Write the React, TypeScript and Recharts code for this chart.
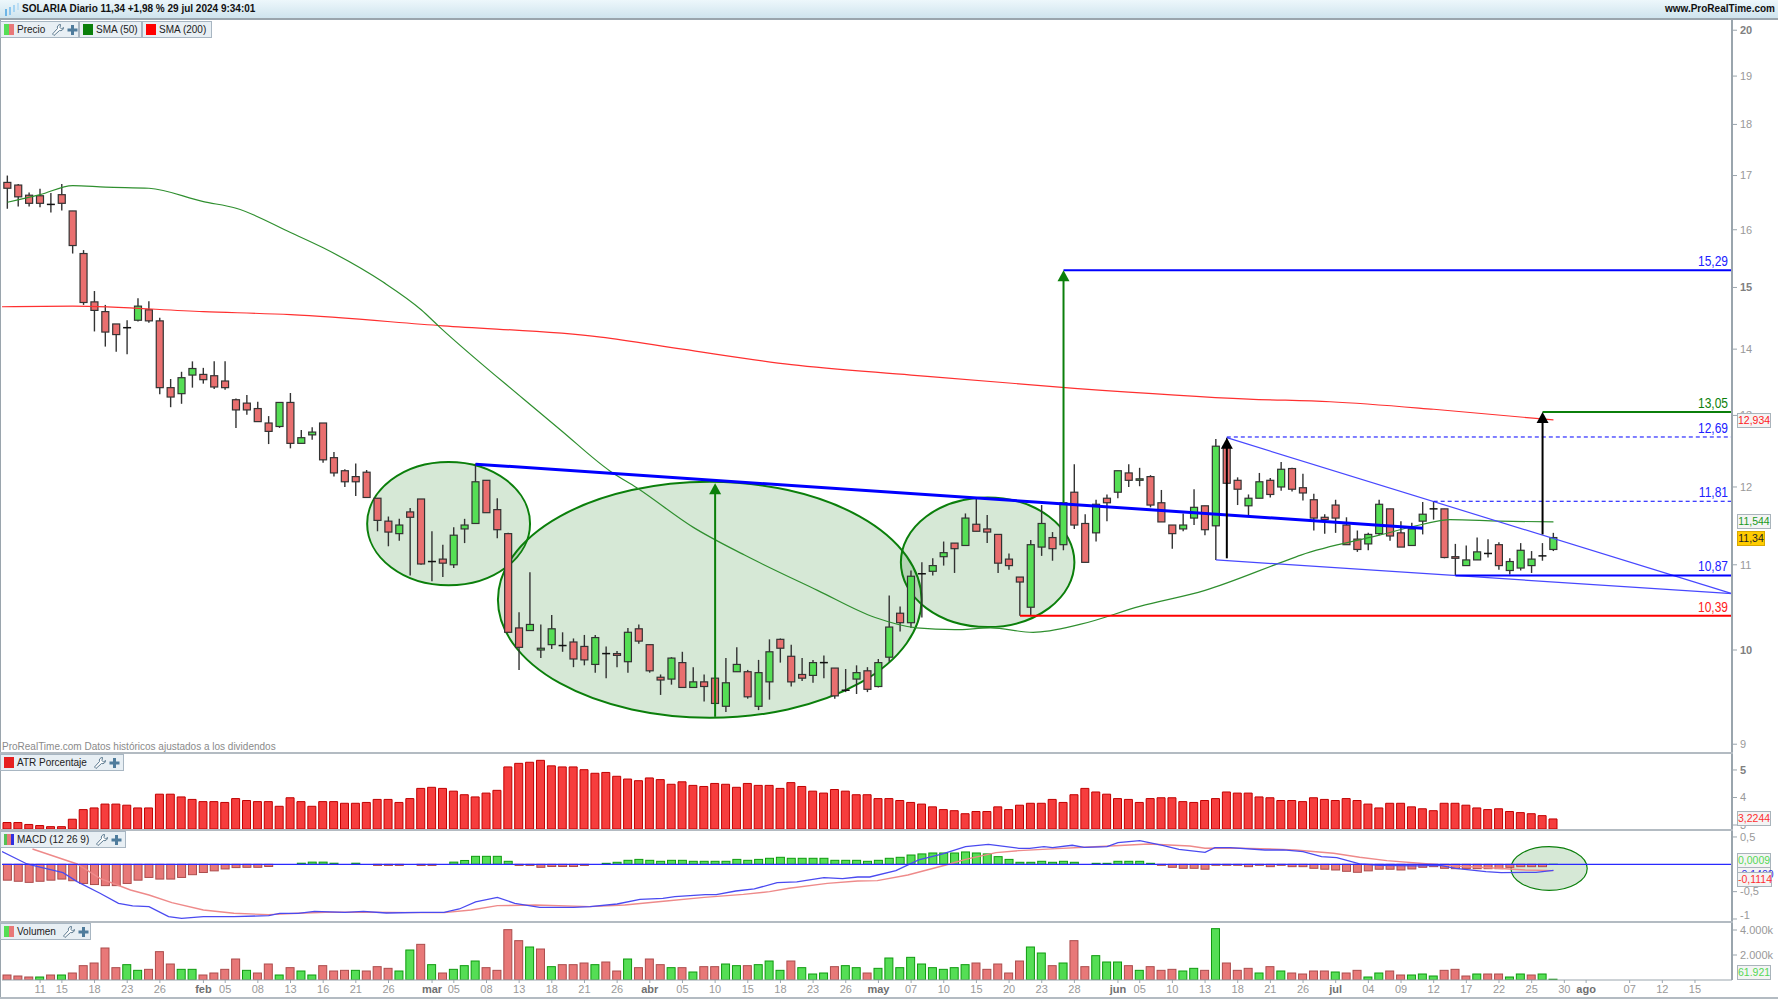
import { Bar, ComposedChart, Line, ReferenceArea, ReferenceDot, ReferenceLine, XAxis, YAxis } from 'recharts';

const highs = [
  17.0, 16.84, 16.68, 16.75, 16.67, 16.84, 16.34, 15.64, 14.94, 14.71, 14.4, 14.46, 14.82, 14.77, 14.5, 13.54, 13.65, 13.81, 13.71, 13.81,
  13.81, 13.25, 13.3, 13.2, 12.99, 13.19, 13.33, 12.79, 12.83, 12.89, 12.48, 12.24, 12.32, 12.23, 11.85, 11.61, 11.58, 11.72, 11.84, 11.42,
  11.25, 11.47, 11.58, 12.32, 12.09, 11.85, 11.4, 10.43, 10.91, 10.29, 10.4, 10.2, 10.13, 10.17, 10.17, 10.04, 9.99, 10.25, 10.29, 10.06,
  9.73, 9.92, 9.98, 9.81, 9.73, 9.69, 9.91, 10.03, 9.78, 9.89, 10.12, 10.13, 10.06, 9.91, 9.89, 9.94, 9.8, 9.79, 9.83, 9.81,
  9.9, 10.63, 10.5, 10.93, 11.03, 11.08, 11.29, 11.27, 11.65, 11.84, 11.63, 11.38, 11.14, 10.85, 11.31, 11.76, 11.41, 11.8, 12.31, 11.64,
  11.83, 11.9, 12.22, 12.31, 12.26, 12.16, 11.96, 11.5, 11.65, 11.97, 11.75, 12.66, 12.68, 12.13, 11.9, 12.19, 12.12, 12.34, 12.26, 12.18,
  11.91, 11.64, 11.83, 11.6, 11.43, 11.4, 11.83, 11.71, 11.55, 11.53, 11.8, 11.81, 11.71, 11.26, 11.24, 11.34, 11.32, 11.28, 11.08, 11.27,
  11.17, 11.27, 11.4,
];
const lows = [
  16.38, 16.42, 16.42, 16.41, 16.31, 16.35, 15.58, 14.71, 14.28, 14.04, 13.96, 13.92, 14.44, 14.42, 13.31, 13.12, 13.17, 13.41, 13.47, 13.39,
  13.38, 12.82, 13.01, 12.91, 12.59, 12.82, 12.53, 12.6, 12.65, 12.33, 12.14, 12.0, 11.88, 11.86, 11.42, 11.23, 11.3, 10.87, 11.0, 10.8,
  10.85, 10.96, 11.27, 11.52, 11.66, 11.33, 10.2, 9.78, 10.22, 9.91, 10.01, 9.98, 9.81, 9.83, 9.75, 9.69, 9.81, 9.75, 10.07, 9.75,
  9.51, 9.62, 9.59, 9.59, 9.44, 9.42, 9.33, 9.76, 9.47, 9.35, 9.46, 9.86, 9.6, 9.66, 9.64, 9.69, 9.47, 9.54, 9.52, 9.54,
  9.59, 9.87, 10.21, 10.25, 10.37, 10.87, 10.99, 10.9, 11.24, 11.42, 11.27, 10.9, 10.94, 10.39, 10.4, 11.11, 11.05, 11.18, 11.45, 11.03,
  11.29, 11.55, 11.85, 12.0, 12.01, 11.73, 11.54, 11.2, 11.42, 11.5, 11.37, 11.06, 12.05, 11.76, 11.63, 11.85, 11.86, 11.95, 11.94, 11.82,
  11.43, 11.39, 11.4, 11.25, 11.16, 11.18, 11.37, 11.3, 11.22, 11.24, 11.38, 11.57, 11.08, 10.87, 10.99, 11.06, 11.09, 10.94, 10.88, 10.93,
  10.9, 11.05, 11.17,
];
const opens = [
  16.87, 16.82, 16.63, 16.62, 16.46, 16.64, 16.34, 15.58, 14.76, 14.6, 14.4, 14.34, 14.46, 14.63, 14.45, 13.41, 13.32, 13.6, 13.61, 13.59,
  13.51, 13.23, 13.18, 13.1, 12.89, 12.84, 13.19, 12.6, 12.72, 12.89, 12.4, 12.22, 12.14, 12.2, 11.85, 11.55, 11.39, 11.67, 11.84, 11.04,
  11.07, 11.0, 11.45, 11.52, 12.09, 11.7, 11.39, 10.25, 10.22, 10.0, 10.06, 10.05, 10.09, 10.04, 9.84, 9.96, 9.96, 9.87, 10.24, 10.06,
  9.7, 9.68, 9.86, 9.59, 9.65, 9.69, 9.39, 9.76, 9.76, 9.39, 9.65, 10.12, 9.93, 9.73, 9.72, 9.86, 9.8, 9.56, 9.68, 9.77,
  9.6, 9.92, 10.42, 10.31, 10.89, 10.92, 11.1, 11.27, 11.24, 11.51, 11.45, 11.38, 11.07, 10.85, 10.49, 11.22, 11.34, 11.25, 11.93, 11.52,
  11.4, 11.85, 11.93, 12.19, 12.09, 12.14, 11.79, 11.5, 11.45, 11.59, 11.75, 11.49, 12.56, 12.09, 11.75, 11.85, 12.09, 12.0, 12.25, 11.99,
  11.83, 11.6, 11.76, 11.5, 11.32, 11.26, 11.39, 11.71, 11.4, 11.24, 11.55, 11.71, 11.71, 11.1, 10.99, 11.06, 11.14, 11.25, 10.93, 10.96,
  10.99, 11.11, 11.19,
];
const closes = [
  16.76, 16.6, 16.48, 16.48, 16.46, 16.48, 15.72, 14.75, 14.62, 14.27, 14.23, 14.34, 14.69, 14.45, 13.41, 13.27, 13.56, 13.7, 13.53, 13.42,
  13.41, 13.08, 13.08, 12.91, 12.77, 13.19, 12.6, 12.68, 12.76, 12.37, 12.19, 12.07, 12.07, 11.86, 11.56, 11.41, 11.5, 11.6, 11.01, 11.04,
  11.02, 11.37, 11.5, 12.07, 11.66, 11.44, 10.2, 10.03, 10.29, 10.02, 10.24, 10.05, 9.9, 9.89, 10.14, 9.96, 9.94, 10.2, 10.1, 9.77,
  9.67, 9.91, 9.59, 9.65, 9.6, 9.42, 9.64, 9.84, 9.49, 9.75, 9.98, 10.02, 9.65, 9.69, 9.86, 9.86, 9.5, 9.56, 9.75, 9.57,
  9.86, 10.26, 10.31, 10.86, 10.89, 10.99, 11.15, 11.2, 11.59, 11.42, 11.41, 11.02, 10.99, 10.79, 11.25, 11.52, 11.2, 11.79, 11.5, 11.03,
  11.77, 11.79, 12.22, 12.09, 12.11, 11.76, 11.54, 11.39, 11.5, 11.73, 11.44, 12.56, 12.05, 11.97, 11.85, 12.07, 11.9, 12.24, 11.97, 11.92,
  11.59, 11.57, 11.59, 11.25, 11.19, 11.38, 11.77, 11.36, 11.22, 11.45, 11.64, 11.71, 11.09, 11.08, 11.06, 11.16, 11.14, 10.99, 11.04, 11.18,
  11.07, 11.11, 11.34,
];
const atrValues = [
  3.09, 3.09, 3.02, 2.98, 2.94, 2.94, 3.21, 3.56, 3.62, 3.76, 3.76, 3.72, 3.62, 3.62, 4.12, 4.12, 4.02, 3.93, 3.85, 3.85,
  3.82, 3.96, 3.89, 3.85, 3.85, 3.68, 3.99, 3.85, 3.68, 3.85, 3.85, 3.79, 3.79, 3.82, 3.93, 3.93, 3.82, 3.96, 4.33, 4.37,
  4.33, 4.23, 4.1, 4.02, 4.16, 4.26, 5.11, 5.24, 5.28, 5.35, 5.15, 5.11, 5.11, 5.01, 4.88, 4.91, 4.77, 4.67, 4.61, 4.71,
  4.65, 4.48, 4.57, 4.44, 4.4, 4.51, 4.48, 4.37, 4.51, 4.44, 4.44, 4.33, 4.54, 4.4, 4.23, 4.16, 4.29, 4.23, 4.1, 4.1,
  3.96, 3.96, 3.89, 3.82, 3.76, 3.66, 3.56, 3.52, 3.41, 3.49, 3.49, 3.66, 3.56, 3.72, 3.79, 3.79, 3.93, 3.82, 4.1, 4.33,
  4.2, 4.12, 3.96, 3.93, 3.82, 3.96, 3.99, 3.99, 3.85, 3.82, 3.89, 3.96, 4.2, 4.16, 4.16, 4.02, 3.99, 3.89, 3.89, 3.85,
  3.99, 3.93, 3.89, 3.96, 3.89, 3.76, 3.62, 3.79, 3.79, 3.66, 3.59, 3.52, 3.79, 3.79, 3.72, 3.62, 3.56, 3.59, 3.49, 3.45,
  3.41, 3.34, 3.22,
];
const macdHist = [
  -0.29, -0.31, -0.33, -0.31, -0.29, -0.27, -0.3, -0.35, -0.37, -0.39, -0.39, -0.35, -0.29, -0.24, -0.27, -0.27, -0.24, -0.19, -0.15, -0.12,
  -0.085, -0.06, -0.055, -0.055, -0.04, 0, 0, 0.02, 0.04, 0.04, 0.02, 0, 0.02, 0, -0.02, -0.02, -0.02, 0, -0.02, -0.02,
  0, 0.04, 0.07, 0.146, 0.146, 0.146, 0.055, -0.02, -0.02, -0.055, -0.04, -0.04, -0.04, -0.02, 0, 0.018, 0.037, 0.073, 0.09, 0.073,
  0.055, 0.073, 0.073, 0.055, 0.055, 0.055, 0.055, 0.09, 0.073, 0.09, 0.11, 0.128, 0.11, 0.11, 0.11, 0.11, 0.073, 0.073, 0.073, 0.055,
  0.073, 0.11, 0.128, 0.17, 0.19, 0.207, 0.207, 0.207, 0.226, 0.207, 0.19, 0.14, 0.09, 0.037, 0.037, 0.055, 0.037, 0.055, 0.037, 0,
  0.018, 0.018, 0.055, 0.055, 0.055, 0.018, -0.018, -0.055, -0.073, -0.073, -0.09, -0.018, -0.018, -0.018, -0.043, -0.018, -0.043, -0.018, -0.043, -0.043,
  -0.073, -0.09, -0.104, -0.128, -0.146, -0.12, -0.09, -0.09, -0.104, -0.085, -0.055, -0.043, -0.073, -0.08, -0.08, -0.08, -0.08, -0.08, -0.055, -0.043,
  -0.043, -0.043, 0.0009,
];
const volumes = [
  400, 320, 240, 240, 400, 400, 560, 1147, 1360, 2560, 987, 1227, 773, 853, 2267, 1280, 853, 853, 400, 560,
  853, 1680, 773, 560, 1280, 400, 987, 720, 400, 1147, 720, 773, 773, 720, 1067, 933, 720, 2400, 2853, 1227,
  560, 853, 1147, 1520, 987, 773, 4027, 3147, 2640, 2480, 1067, 1227, 1227, 1360, 1227, 1440, 720, 1680, 987, 1680,
  1227, 987, 987, 640, 1067, 1067, 1280, 1147, 1147, 1227, 1520, 773, 1520, 987, 480, 560, 1067, 1147, 987, 560,
  933, 1760, 987, 1813, 1280, 987, 853, 987, 1227, 1360, 853, 1280, 560, 1520, 2640, 2160, 1147, 1360, 3147, 1067,
  1947, 1440, 1440, 1147, 773, 1067, 773, 853, 720, 933, 773, 4107, 1360, 773, 933, 560, 1067, 720, 560, 480,
  720, 720, 640, 560, 773, 240, 560, 720, 400, 400, 480, 320, 773, 853, 320, 480, 480, 480, 240, 480,
  400, 480, 62,
];

// readings: [bar index, value]
const sma50 = [
  [0, 16.5], [3, 16.64], [6, 16.81], [9, 16.78], [13, 16.76], [18, 16.51], [21, 16.39], [26, 15.95], [29, 15.68], [34.5, 15.09],
  [38, 14.63], [39.7, 14.35], [47.4, 13.24], [50.8, 12.79], [55.4, 12.21], [57.8, 11.99], [63, 11.47], [67.7, 11.12], [74.4, 10.69],
  [79.7, 10.37], [83.5, 10.25], [87, 10.23], [90.3, 10.25], [94.2, 10.2], [98.5, 10.29], [104, 10.5], [110, 10.69], [117, 11.03],
  [118.8, 11.12], [126, 11.37], [130, 11.51], [132.5, 11.57], [137, 11.55], [142, 11.54],
];
const sma200 = [
  [-0.5, 14.68], [6, 14.69], [18, 14.6], [26, 14.55], [40, 14.37], [54.5, 14.19], [62, 14.0], [72, 13.76], [83, 13.6], [98, 13.4],
  [114, 13.24], [121.5, 13.2], [131, 13.09], [142, 12.934],
];
const macdLine = [
  [-0.5, 0.232], [1.8, 0.006], [2.8, -0.043], [5.1, -0.152], [6.4, -0.317], [8.5, -0.53], [10.2, -0.713], [11.5, -0.762], [13, -0.774],
  [14.8, -0.957], [16, -0.988], [18, -0.957], [20.8, -0.957], [24, -0.939], [25, -0.896], [26.7, -0.896], [28.2, -0.86], [31, -0.878],
  [32.7, -0.86], [34.8, -0.89], [38, -0.878], [40.1, -0.878], [41.5, -0.817], [43, -0.689], [45, -0.604], [46.6, -0.713], [48.9, -0.787],
  [52, -0.787], [53.5, -0.774], [56, -0.726], [58.1, -0.64], [60.2, -0.622], [61.3, -0.591], [64.1, -0.555], [65.1, -0.555], [66.9, -0.488],
  [68.6, -0.451], [70.7, -0.335], [72.5, -0.323], [75, -0.244], [76.7, -0.262], [78.1, -0.232], [79.2, -0.232], [81.6, -0.116], [83.7, 0.079],
  [85.9, 0.189], [88, 0.323], [90.1, 0.366], [92.9, 0.293], [93.9, 0.293], [95.2, 0.323], [96, 0.305], [97.8, 0.348], [98.9, 0.311], [101, 0.323],
  [102, 0.396], [104, 0.433], [106.2, 0.341], [107.6, 0.274], [110, 0.22], [110.9, 0.305], [112.3, 0.305], [115.5, 0.262], [117.2, 0.262],
  [119, 0.232], [120.7, 0.14], [122.1, 0.122], [124.2, 0.006], [126, -0.018], [129.5, -0.03], [131.6, -0.018], [133, -0.073], [135.8, -0.134],
  [137.2, -0.152], [140.4, -0.146], [142, -0.11],
];
const macdSignal = [
  [2.3, 0.28], [6.4, 0.006], [8.5, -0.256], [11.3, -0.47], [13, -0.561], [15.1, -0.701], [18, -0.835], [20.8, -0.896], [24, -0.921], [26.7, -0.896],
  [29.2, -0.878], [32.7, -0.878], [38, -0.884], [40.1, -0.884], [42.6, -0.835], [45, -0.756], [48.5, -0.744], [53.5, -0.774], [56.7, -0.744],
  [60.5, -0.671], [64, -0.604], [67.6, -0.549], [70, -0.5], [71.8, -0.439], [75.3, -0.348], [78.1, -0.305], [79.9, -0.299], [82.7, -0.195],
  [86.2, -0.012], [88, 0.091], [90.8, 0.213], [92.9, 0.25], [96.4, 0.287], [98.9, 0.311], [101.3, 0.335], [104.8, 0.372], [108.6, 0.335], [110, 0.293],
  [112.3, 0.299], [115.1, 0.287], [118.3, 0.262], [121.8, 0.201], [124.2, 0.128], [126.7, 0.067], [130.6, 0.006], [133, -0.03], [136.5, -0.067],
  [139.4, -0.104], [142, -0.116],
];

const dateTicks = [3, 5, 8, 11, 14, 18, 20, 23, 26, 29, 32, 35, 39, 41, 44, 47, 50, 53, 56, 59, 62, 65, 68, 71, 74, 77, 80, 83, 86, 89, 92, 95, 98, 102, 104, 107, 110, 113, 116, 119, 122, 125, 128, 131, 134, 137, 140, 143, 145, 149, 152, 155];
const dateLabels = ['11', '15', '18', '23', '26', 'feb', '05', '08', '13', '16', '21', '26', 'mar', '05', '08', '13', '18', '21', '26', 'abr', '05', '10', '15', '18', '23', '26', 'may', '07', '10', '15', '20', '23', '28', 'jun', '05', '10', '13', '18', '21', '26', 'jul', '04', '09', '12', '17', '22', '25', '30', 'ago', '07', '12', '15'];
const priceTicks = [9, 10, 11, 12, 13, 14, 15, 16, 17, 18, 19, 20];
const boldTicks = [5, 10, 15, 20];

const rows = highs.map((h, i) => ({
  i,
  range: [lows[i], h],
  high: h,
  low: lows[i],
  open: opens[i],
  close: closes[i],
  atr: atrValues[i],
  hist: macdHist[i],
  vol: volumes[i],
  up: i > 0 && closes[i] >= closes[i - 1],
}));
const toLine = (pts: number[][]) => pts.map(([i, v]) => ({ i, v }));

const X_DOMAIN = [-0.5, 158.4];
const RIGHT = 158.4;
const WIDTH = 1778;
const MARGIN = { top: 0, right: 0, bottom: 0, left: 2 };
const GREY = '#9aa5ad';
const FONT = '"Liberation Sans", Arial, sans-serif';
const DARK_GREEN = '#0b7f0b';
const BLUE = '#0000ff';

function Candle(props: any) {
  const { x, y, width, height, payload } = props;
  const { high, low, open, close } = payload;
  const cx = x + width / 2;
  const at = (v: number) => y + (height * Math.log(high / v)) / Math.log(high / low);
  const top = at(Math.max(open, close));
  const bottom = at(Math.min(open, close));
  if (open === close) {
    return (
      <g>
        <line x1={cx} x2={cx} y1={y} y2={y + height} stroke="#333" strokeWidth={1.4} />
        <line x1={cx - 4} x2={cx + 4} y1={top} y2={top} stroke="#111" strokeWidth={1.5} />
      </g>
    );
  }
  return (
    <g>
      <line x1={cx} x2={cx} y1={y} y2={y + height} stroke="#333" strokeWidth={1.4} />
      <rect
        x={cx - 3.5}
        y={top}
        width={7}
        height={bottom - top}
        fill={close < open ? '#e96f6f' : '#55de55'}
        stroke="#333"
        strokeWidth={1.2}
      />
    </g>
  );
}

// the lines in the same chart narrow the band, so the bar keeps its own width around its centre
function HistBar(props: any) {
  const { x, y, width, height, payload } = props;
  if (payload.hist === 0) return null;
  const neg = payload.hist < 0;
  return (
    <rect
      x={x + width / 2 - 4}
      y={Math.min(y, y + height)}
      width={8}
      height={Math.abs(height)}
      fill={neg ? '#e87878' : '#55de55'}
      stroke={neg ? '#ab4c4c' : '#0f9a0f'}
    />
  );
}

function VolBar(props: any) {
  const { x, y, width, height, payload } = props;
  return (
    <rect
      x={x + width / 2 - 4}
      y={y}
      width={8}
      height={height}
      fill={payload.up ? '#55de55' : '#e87878'}
      stroke={payload.up ? '#0f9a0f' : '#ab4c4c'}
    />
  );
}

function Ellipse(props: any) {
  const { x, y, width, height } = props;
  return (
    <ellipse
      cx={x + width / 2}
      cy={y + height / 2}
      rx={width / 2}
      ry={height / 2}
      fill="rgba(30,130,30,0.18)"
      stroke={DARK_GREEN}
      strokeWidth={props.thin ? 1.2 : 2}
    />
  );
}

const arrowHead = (color: string) => (p: any) => (
  <polygon points={`${p.cx},${p.cy} ${p.cx - 6},${p.cy + 11} ${p.cx + 6},${p.cy + 11}`} fill={color} />
);

const lineLabel = (text: string, color: string) => (p: any) => (
  <text
    transform={`translate(${p.cx - 4},${p.cy - 4}) scale(1,1.25)`}
    textAnchor="end"
    fontSize={12}
    fontFamily={FONT}
    fill={color}
  >
    {text}
  </text>
);

const axisTick = (format: (v: number) => string) => (p: any) => (
  <text
    x={p.x + 1}
    y={p.payload.value === -1 ? p.y - 4 : p.y}
    dy="0.35em"
    textAnchor="start"
    fontSize={11}
    fontFamily={FONT}
    fontWeight={boldTicks.includes(p.payload.value) ? 700 : 400}
    fill={boldTicks.includes(p.payload.value) ? '#808080' : '#999'}
  >
    {format(p.payload.value)}
  </text>
);

function DateTick(p: any) {
  const label = dateLabels[dateTicks.indexOf(p.payload.value)];
  const isMonth = /[a-z]/.test(label);
  return (
    <text
      x={p.x}
      y={p.y + 8}
      textAnchor="middle"
      fontSize={11}
      fontFamily={FONT}
      fontWeight={isMonth ? 700 : 400}
      fill={isMonth ? '#707070' : '#999'}
    >
      {label}
    </text>
  );
}

function Tools() {
  return (
    <svg width={28} height={14} viewBox="0 0 28 14" style={{ marginLeft: 6, flex: 'none' }}>
      <path d="M9.5 1.5 a3 3 0 0 0 -3 4 L1.5 11 l1.5 1.5 L8.5 7.5 a3 3 0 0 0 4 -3 l-2 1.5 -1.5 -1.5 z" fill="#fff" stroke="#5c7a90" strokeWidth={1} />
      <path d="M20 2h3v3.5h3.5v3H23V12h-3V8.5h-3.5v-3H20z" fill="#4f7c9c" />
    </svg>
  );
}

function Chip(props: any) {
  const { left, top, width, colors, text, tools } = props;
  return (
    <div
      style={{
        position: 'absolute', left, top, width, height: 17, boxSizing: 'border-box',
        background: '#e8eff4', border: '1px solid #a8b6c2', display: 'flex', alignItems: 'center',
        paddingLeft: 3, font: `10px ${FONT}`, color: '#222', whiteSpace: 'nowrap',
      }}
    >
      <span style={{ display: 'flex', width: 10, height: 11, marginRight: 3, flex: 'none' }}>
        {colors.map((c: string) => (
          <i key={c} style={{ flex: 1, background: c }} />
        ))}
      </span>
      {text}
      {tools && <Tools />}
    </div>
  );
}

function ValueBox(props: any) {
  const { top, width = 34, color, bg = '#f4f4f4', text, height = 15 } = props;
  return (
    <div
      style={{
        position: 'absolute', left: 1737, top, width, height, boxSizing: 'border-box',
        border: bg === '#f4f4f4' ? '1px solid #a9b4bb' : '1px solid #d8a800', background: bg,
        color, font: `10.5px ${FONT}`, lineHeight: `${height - 2}px`, textAlign: 'center',
      }}
    >
      {text}
    </div>
  );
}

function Divider({ top }: { top: number }) {
  return <div style={{ position: 'absolute', left: 0, top, width: 1733, height: 2, background: '#b3bbc2' }} />;
}

export default function App() {
  return (
    <div style={{ position: 'fixed', left: 0, top: 0, width: WIDTH, height: 1000, background: '#fff', overflow: 'hidden', fontFamily: FONT }}>
      {/* price panel */}
      <div style={{ position: 'absolute', left: 0, top: 20 }}>
        <ComposedChart width={WIDTH} height={733} data={rows} margin={MARGIN}>
          <XAxis type="number" dataKey="i" domain={X_DOMAIN} allowDataOverflow hide />
          <YAxis
            orientation="right"
            width={46}
            type="number"
            scale="log"
            domain={[8.912, 20.23]}
            allowDataOverflow
            ticks={priceTicks}
            interval={0}
            tickSize={5}
            tickLine={{ stroke: GREY }}
            axisLine={{ stroke: GREY, strokeWidth: 2 }}
            tick={axisTick((v) => String(v))}
          />
          <Bar dataKey="range" barSize={8} shape={<Candle />} isAnimationActive={false} />
          <Line data={toLine(sma200)} dataKey="v" type="monotone" stroke="#ff3030" strokeWidth={1.2} dot={false} isAnimationActive={false} />
          <Line data={toLine(sma50)} dataKey="v" type="monotone" stroke="#2f8f2f" strokeWidth={1.2} dot={false} isAnimationActive={false} />

          <ReferenceArea x1={33.04} x2={48} y1={10.75} y2={12.34} ifOverflow="visible" shape={<Ellipse />} />
          <ReferenceArea x1={45.05} x2={83.96} y1={9.27} y2={12.07} ifOverflow="visible" shape={<Ellipse />} />
          <ReferenceArea x1={82.06} x2={98} y1={10.26} y2={11.86} ifOverflow="visible" shape={<Ellipse />} />

          <ReferenceLine segment={[{ x: 43, y: 12.31 }, { x: 130, y: 11.46 }]} stroke={BLUE} strokeWidth={3} ifOverflow="visible" />
          <ReferenceLine segment={[{ x: 112, y: 12.68 }, { x: RIGHT, y: 10.65 }]} stroke="#4848ff" strokeWidth={1.2} ifOverflow="visible" />
          <ReferenceLine segment={[{ x: 111, y: 11.06 }, { x: RIGHT, y: 10.65 }]} stroke="#4848ff" strokeWidth={1.2} ifOverflow="visible" />
          <ReferenceLine segment={[{ x: 97, y: 15.29 }, { x: RIGHT, y: 15.29 }]} stroke={BLUE} strokeWidth={2} ifOverflow="visible" />
          <ReferenceLine segment={[{ x: 141, y: 13.05 }, { x: RIGHT, y: 13.05 }]} stroke={DARK_GREEN} strokeWidth={2} ifOverflow="visible" />
          <ReferenceLine segment={[{ x: 112, y: 12.69 }, { x: RIGHT, y: 12.69 }]} stroke={BLUE} strokeWidth={1} strokeDasharray="4 3" ifOverflow="visible" />
          <ReferenceLine segment={[{ x: 131, y: 11.81 }, { x: RIGHT, y: 11.81 }]} stroke={BLUE} strokeWidth={1} strokeDasharray="4 3" ifOverflow="visible" />
          <ReferenceLine segment={[{ x: 133, y: 10.87 }, { x: RIGHT, y: 10.87 }]} stroke={BLUE} strokeWidth={2} ifOverflow="visible" />
          <ReferenceLine segment={[{ x: 93, y: 10.39 }, { x: RIGHT, y: 10.39 }]} stroke="#ff0000" strokeWidth={2} ifOverflow="visible" />

          <ReferenceLine segment={[{ x: 65, y: 9.28 }, { x: 65, y: 12.0 }]} stroke={DARK_GREEN} strokeWidth={2} ifOverflow="visible" />
          <ReferenceLine segment={[{ x: 97, y: 11.79 }, { x: 97, y: 15.2 }]} stroke={DARK_GREEN} strokeWidth={2} ifOverflow="visible" />
          <ReferenceLine segment={[{ x: 112, y: 11.08 }, { x: 112, y: 12.6 }]} stroke="#000" strokeWidth={2} ifOverflow="visible" />
          <ReferenceLine segment={[{ x: 141, y: 11.38 }, { x: 141, y: 12.95 }]} stroke="#000" strokeWidth={2} ifOverflow="visible" />
          <ReferenceDot x={65} y={12.05} ifOverflow="visible" shape={arrowHead(DARK_GREEN)} />
          <ReferenceDot x={97} y={15.29} ifOverflow="visible" shape={arrowHead(DARK_GREEN)} />
          <ReferenceDot x={112} y={12.68} ifOverflow="visible" shape={arrowHead('#000')} />
          <ReferenceDot x={141} y={13.05} ifOverflow="visible" shape={arrowHead('#000')} />

          <ReferenceDot x={RIGHT} y={15.29} ifOverflow="visible" shape={lineLabel('15,29', '#2020ff')} />
          <ReferenceDot x={RIGHT} y={13.05} ifOverflow="visible" shape={lineLabel('13,05', DARK_GREEN)} />
          <ReferenceDot x={RIGHT} y={12.69} ifOverflow="visible" shape={lineLabel('12,69', '#2020ff')} />
          <ReferenceDot x={RIGHT} y={11.81} ifOverflow="visible" shape={lineLabel('11,81', '#2020ff')} />
          <ReferenceDot x={RIGHT} y={10.87} ifOverflow="visible" shape={lineLabel('10,87', '#2020ff')} />
          <ReferenceDot x={RIGHT} y={10.39} ifOverflow="visible" shape={lineLabel('10,39', '#ff2020')} />
        </ComposedChart>
      </div>

      {/* ATR */}
      <div style={{ position: 'absolute', left: 0, top: 754 }}>
        <ComposedChart width={WIDTH} height={75} data={rows} margin={MARGIN}>
          <XAxis type="number" dataKey="i" domain={X_DOMAIN} allowDataOverflow hide />
          <YAxis
            orientation="right"
            width={46}
            type="number"
            domain={[2.855, 5.58]}
            allowDataOverflow
            ticks={[3, 4, 5]}
            interval={0}
            tickSize={5}
            tickLine={{ stroke: GREY }}
            axisLine={{ stroke: GREY, strokeWidth: 2 }}
            tick={axisTick((v) => String(v))}
          />
          <Bar dataKey="atr" barSize={8} fill="#f63d3d" stroke="#c00000" isAnimationActive={false} />
        </ComposedChart>
      </div>

      {/* MACD */}
      <div style={{ position: 'absolute', left: 0, top: 831 }}>
        <ComposedChart width={WIDTH} height={91} data={rows} margin={MARGIN}>
          <XAxis type="number" dataKey="i" domain={X_DOMAIN} allowDataOverflow hide />
          <YAxis
            orientation="right"
            width={46}
            type="number"
            domain={[-1.055, 0.609]}
            allowDataOverflow
            ticks={[-1, -0.5, 0.5]}
            interval={0}
            tickSize={5}
            tickLine={{ stroke: GREY }}
            axisLine={{ stroke: GREY, strokeWidth: 2 }}
            tick={axisTick((v) => String(v).replace('.', ','))}
          />
          <Bar dataKey="hist" barSize={8} shape={<HistBar />} isAnimationActive={false} />
          <Line data={toLine(macdSignal)} dataKey="v" stroke="#ee8a8a" strokeWidth={1.4} dot={false} isAnimationActive={false} />
          <Line data={toLine(macdLine)} dataKey="v" stroke="#4a4af0" strokeWidth={1.3} dot={false} isAnimationActive={false} />
          <ReferenceLine y={0} stroke="#2a2aff" strokeWidth={1.2} ifOverflow="visible" />
          <ReferenceArea x1={138.1} x2={145.1} y1={-0.476} y2={0.323} ifOverflow="visible" shape={<Ellipse thin />} />
        </ComposedChart>
      </div>

      {/* Volume with the date axis */}
      <div style={{ position: 'absolute', left: 0, top: 922 }}>
        <ComposedChart width={WIDTH} height={78} data={rows} margin={MARGIN}>
          <XAxis
            type="number"
            dataKey="i"
            domain={X_DOMAIN}
            allowDataOverflow
            ticks={dateTicks}
            interval={0}
            height={20}
            tickSize={3}
            tickLine={{ stroke: GREY }}
            axisLine={{ stroke: GREY }}
            tick={<DateTick />}
          />
          <YAxis
            orientation="right"
            width={46}
            type="number"
            domain={[0, 4640]}
            allowDataOverflow
            ticks={[2000, 4000]}
            interval={0}
            tickSize={5}
            tickLine={{ stroke: GREY }}
            axisLine={{ stroke: GREY, strokeWidth: 2 }}
            tick={axisTick((v) => `${v / 1000}.000k`)}
          />
          <Bar dataKey="vol" barSize={8} shape={<VolBar />} isAnimationActive={false} />
        </ComposedChart>
      </div>

      {/* frame */}
      <div style={{ position: 'absolute', left: 0, top: 0, width: WIDTH, height: 20, boxSizing: 'border-box', background: 'linear-gradient(#edf7fb,#cfe4ee)', borderBottom: `2px solid ${GREY}` }}>
        <svg width={18} height={16} style={{ position: 'absolute', left: 3, top: 2 }}>
          <rect x={2} y={7} width={2} height={7} fill="#6cb4e6" />
          <rect x={6} y={5} width={2} height={8} fill="#8cc6ee" />
          <rect x={10} y={3} width={2} height={7} fill="#a6d4f2" />
          <rect x={14} y={1} width={2} height={7} fill="#bfe0f5" />
        </svg>
        <span style={{ position: 'absolute', left: 22, top: 3, font: `700 10px ${FONT}`, color: '#111', whiteSpace: 'nowrap' }}>
          SOLARIA Diario 11,34 +1,98 % 29 jul 2024 9:34:01
        </span>
        <span style={{ position: 'absolute', right: 3, top: 3, font: `700 10px ${FONT}`, color: '#111', whiteSpace: 'nowrap' }}>
          www.ProRealTime.com
        </span>
      </div>
      <div style={{ position: 'absolute', left: 0, top: 20, width: 1, height: 978, background: GREY }} />
      <Divider top={752} />
      <Divider top={829} />
      <Divider top={921} />
      <div style={{ position: 'absolute', left: 0, top: 997, width: WIDTH, height: 2, background: '#b3bbc2' }} />

      <Chip left={0} top={21} width={79} colors={['#55de55', '#e87878']} text="Precio" tools />
      <Chip left={79} top={21} width={63} colors={['#0b7f0b']} text="SMA (50)" />
      <Chip left={142} top={21} width={70} colors={['#ff0000']} text="SMA (200)" />
      <Chip left={0} top={754} width={124} colors={['#e62020']} text="ATR Porcentaje" tools />
      <Chip left={0} top={831} width={126} colors={['#55c055', '#e87878', '#3030e0']} text="MACD (12 26 9)" tools />
      <Chip left={0} top={923} width={91} colors={['#55de55', '#e87878']} text="Volumen" tools />

      <div style={{ position: 'absolute', left: 2, top: 741, font: `10px ${FONT}`, color: '#8a8a8a', whiteSpace: 'nowrap' }}>
        ProRealTime.com Datos históricos ajustados a los dividendos
      </div>

      <ValueBox top={413} color="#ff2020" text="12,934" />
      <ValueBox top={514} color="#1a9a1a" text="11,544" />
      <ValueBox top={531} width={28} bg="#ffcc00" color="#222" text="11,34" />
      <ValueBox top={811} color="#ff3030" text="3,2244" />
      <ValueBox top={853} color="#55d855" text="0,0009" />
      <ValueBox top={867} color="#3030e0" text="-0,1400" />
      <ValueBox top={872} width={35} color="#ff3030" text="-0,1114" />
      <ValueBox top={965} color="#55d855" text="61.921" />
    </div>
  );
}
